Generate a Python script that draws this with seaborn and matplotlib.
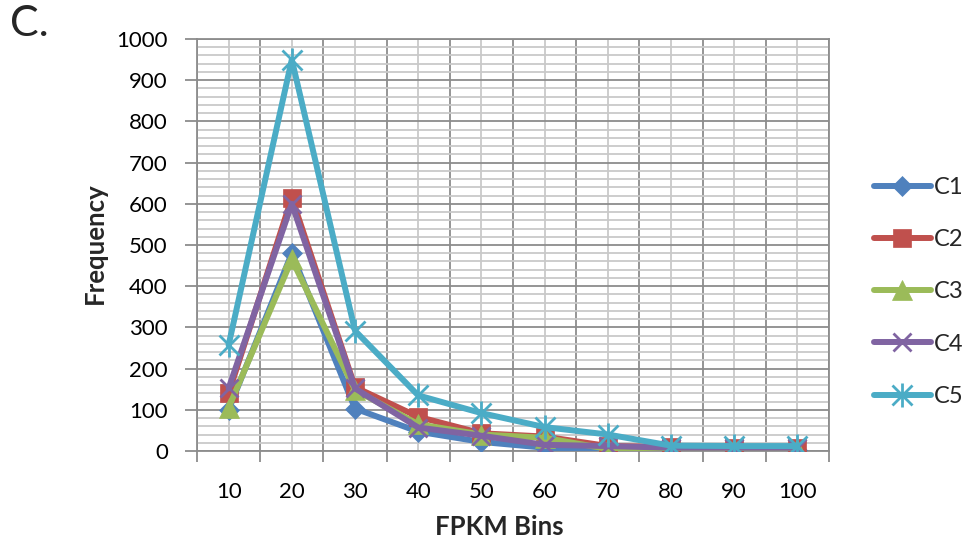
import matplotlib
matplotlib.use("Agg")
import matplotlib.pyplot as plt
import seaborn as sns
import numpy as np
from matplotlib.lines import Line2D
from matplotlib.legend_handler import HandlerTuple

bins = ["10", "20", "30", "40", "50", "60", "70", "80", "90", "100"]
c1 = [100, 480, 103, 47, 22, 8, 4, 3, 2, 2]
c2 = [140, 615, 155, 83, 43, 35, 12, 10, 8, 8]
c3 = [105, 465, 148, 65, 40, 32, 5, 5, 5, 5]
c4 = [152, 600, 152, 57, 37, 15, 12, 8, 8, 8]
c5 = [257, 950, 292, 135, 92, 58, 40, 13, 12, 12]
series_names = ["C1", "C2", "C3", "C4", "C5"]
series_vals = [c1, c2, c3, c4, c5]
colors = ["#4F81BD", "#C0504D", "#9BBB59", "#8064A2", "#4BACC6"]

sns.set_theme(style="white")
plt.rcParams["font.family"] = ["Lato", "DejaVu Sans"]

fig = plt.figure(figsize=(9.66, 5.48), dpi=100)
ax = fig.add_axes([197/966, 1-451/548, (829-197)/966, (451-39)/548])

x = np.arange(len(bins))
markers = ["D", "s", "^", "x", "x"]
msizes = [10, 13, 14, 13, 14]
LW = 4.3
for name, vals, col, mk, ms in zip(series_names, series_vals, colors, markers, msizes):
    sns.lineplot(x=x, y=vals, ax=ax, color=col, linewidth=LW, marker=mk,
                 markersize=ms, markeredgewidth=2 if mk == "x" else 0.5,
                 markeredgecolor=col, label=name, legend=False, zorder=3)
# extra vertical stroke for asterisk marker of C5
ax.plot(x, c5, linestyle="none", marker="|", markersize=17, markeredgewidth=2,
        color=colors[4], zorder=4)

ax.set_xlim(-0.5, 9.5)
ax.set_ylim(0, 1000)
ax.set_xticks(x)
ax.set_xticklabels(bins)
ax.set_xticks(np.arange(-0.5, 10, 1), minor=True)
ax.set_yticks(np.arange(0, 1001, 100))
ax.set_yticks(np.arange(0, 1001, 20), minor=True)

ax.grid(which="minor", axis="x", color="#8C8C8C", linewidth=1.3, zorder=0)
ax.grid(which="major", axis="x", color="#C9C9C9", linewidth=1.3, zorder=0)
ax.grid(which="major", axis="y", color="#8C8C8C", linewidth=1.3, zorder=0)
ax.grid(which="minor", axis="y", color="#C9C9C9", linewidth=1.3, zorder=0)
ax.set_axisbelow(True)

ax.tick_params(axis="x", which="major", length=0, pad=22, labelsize=16, colors="black")
ax.tick_params(axis="x", which="minor", length=8, width=1.3, color="#8C8C8C", direction="out", bottom=True)
ax.tick_params(axis="y", which="major", length=9, width=1.3, color="#8C8C8C", pad=12, labelsize=16, left=True, labelcolor="black")
ax.tick_params(axis="y", which="minor", length=0)

for s in ax.spines.values():
    s.set_color("#8C8C8C")
    s.set_linewidth(1.3)

ax.set_xlabel("")
ax.set_ylabel("")
fig.text(499/966, 1-527/548, "FPKM Bins", ha="center", va="center", fontsize=18.5, fontweight="bold")
fig.text(95/966, 1-243/548, "Frequency", ha="center", va="center", rotation=90, fontsize=18.5, fontweight="bold")
fig.text(10/966, 1-24/548, "C.", ha="left", va="center", fontsize=31)

# legend
leg_handles = []
for i, (name, col, mk, ms) in enumerate(zip(series_names, colors, markers, msizes)):
    h = Line2D([0], [0], color=col, linewidth=LW, marker=mk, markersize=ms,
               markeredgewidth=2 if mk == "x" else 0.5, markeredgecolor=col)
    if i == 4:
        h2 = Line2D([0], [0], color=col, linewidth=0, marker="|", markersize=17,
                    markeredgewidth=2, markeredgecolor=col)
        h = (h, h2)
    leg_handles.append(h)
fig.legend(leg_handles, series_names, loc="center left",
           bbox_to_anchor=(874/966, 1-292/548), frameon=False, fontsize=17,
           handlelength=2.4, handletextpad=0.15, labelspacing=1.32,
           borderpad=0, borderaxespad=0,
           handler_map={tuple: HandlerTuple(ndivide=1)})

fig.savefig("out.png", dpi=100)
